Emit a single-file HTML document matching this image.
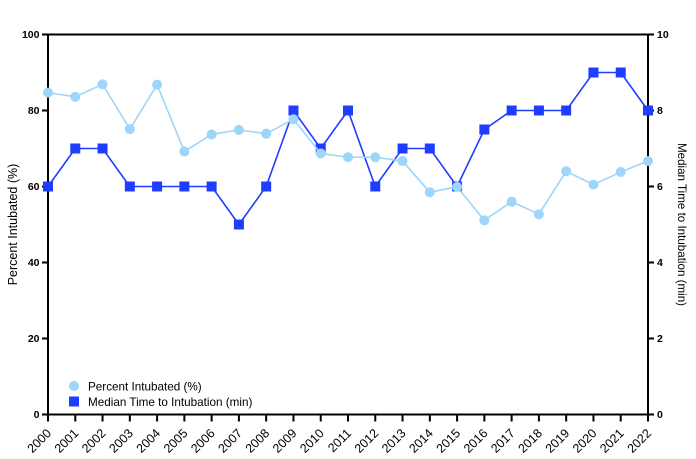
<!DOCTYPE html>
<html><head><meta charset="utf-8"><style>
html,body{margin:0;padding:0;background:#fff;}
svg{display:block;font-family:"Liberation Sans",Arial,sans-serif;}
</style></head><body>
<svg width="696" height="459" viewBox="0 0 696 459" xmlns="http://www.w3.org/2000/svg">
<rect width="696" height="459" fill="#fff"/>
<g id="g"></g>
</svg>
<script>
(function(){
var ns="http://www.w3.org/2000/svg",g=document.getElementById("g");
function el(t,a,txt){var e=document.createElementNS(ns,t);for(var k in a)e.setAttribute(k,a[k]);if(txt!=null)e.textContent=txt;g.appendChild(e);return e;}
var x0=48,x1=648,y0=414.5,y1=34.5;
function X(i){return x0+i*(x1-x0)/22;}
function Y(v){return y0-(y0-y1)*v/100;}
var pct=[84.7,83.6,86.9,75.1,86.8,69.2,73.7,74.9,73.9,77.7,68.7,67.7,67.7,66.7,58.5,59.9,51.1,56.0,52.7,64.0,60.5,63.8,66.7];
var med=[6,7,7,6,6,6,6,5,6,8,7,8,6,7,7,6,7.5,8,8,8,9,9,8];
// axes
el("path",{d:"M"+x0+" "+y1+"H"+x1+"M"+x0+" "+y0+"H"+x1+"M"+x0+" "+(y1-1)+"V"+(y0+1)+"M"+x1+" "+(y1-1)+"V"+(y0+1),stroke:"#000","stroke-width":2,fill:"none"});
for(var v=0;v<=100;v+=20){var y=Y(v);
 el("line",{x1:42,y1:y,x2:x0,y2:y,stroke:"#000","stroke-width":2});
 el("text",{x:39.5,y:y+3.6,"text-anchor":"end","font-size":"10.5","font-weight":"bold"},String(v));
 el("line",{x1:x1,y1:y,x2:654,y2:y,stroke:"#000","stroke-width":2});
 el("text",{x:657,y:y+3.6,"text-anchor":"start","font-size":"10.5","font-weight":"bold"},String(v/10));
}
for(var i=0;i<=22;i++){var x=X(i);
 el("line",{x1:x,y1:y0,x2:x,y2:421.5,stroke:"#000","stroke-width":2});
 el("text",{x:x+4,y:434,"text-anchor":"end","font-size":"12.5",transform:"rotate(-45 "+(x+4)+" 434)"},String(2000+i));
}
el("text",{x:17,y:224.5,"text-anchor":"middle","font-size":"12.5",transform:"rotate(-90 17 224.5)"},"Percent Intubated (%)");
el("text",{x:678,y:224.5,"text-anchor":"middle","font-size":"11.6",transform:"rotate(90 678 224.5)"},"Median Time to Intubation (min)");
// median series
var dB="#1f3dff",lB="#9dd5fb";
var d="";for(var i=0;i<23;i++)d+=(i?"L":"M")+X(i)+" "+Y(med[i]*10);
el("path",{d:d,stroke:dB,"stroke-width":1.6,fill:"none"});
for(var i=0;i<23;i++)el("rect",{x:X(i)-5,y:Y(med[i]*10)-5,width:10,height:10,fill:dB});
var d2="";for(var i=0;i<23;i++)d2+=(i?"L":"M")+X(i)+" "+Y(pct[i]);
el("path",{d:d2,stroke:lB,"stroke-width":1.6,fill:"none"});
for(var i=0;i<23;i++)el("circle",{cx:X(i),cy:Y(pct[i]),r:5,fill:lB});
// legend
el("circle",{cx:74,cy:386,r:5,fill:lB});
el("rect",{x:69,y:396.5,width:10,height:10,fill:dB});
el("text",{x:88,y:390.5,"font-size":"11.7"},"Percent Intubated (%)");
el("text",{x:88,y:406,"font-size":"11.7"},"Median Time to Intubation (min)");
})();
</script>
</body></html>
